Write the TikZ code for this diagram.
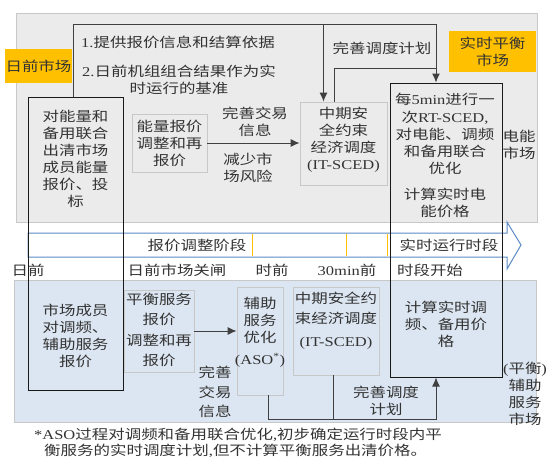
\documentclass[tikz,border=0pt]{standalone}
\usepackage{fontspec}
\setmainfont{Liberation Serif}[FakeStretch=1.22]
\newfontfamily\cjk{Noto Sans CJK SC}[FakeStretch=1.22]
\newcommand{\lat}[1]{{\rmfamily #1}}
\usepackage{xcolor}
\definecolor{panelgray}{HTML}{EBEBEB}
\definecolor{panelblue}{HTML}{DCE6F2}
\definecolor{mktorange}{HTML}{FFC000}
\definecolor{lineblue}{HTML}{5B8AC4}
\definecolor{edgegray}{HTML}{C8C8C8}
\usepackage{tikz}
\usetikzlibrary{arrows.meta, positioning, calc}

\begin{document}
\begin{tikzpicture}[x=1pt, y=-1pt,
  txt/.style={inner sep=0pt, align=center, text=black!80,
    font=\cjk\fontsize{13.5}{17}\selectfont},
  panel/.style={draw=edgegray, line width=0.8pt, inner sep=0pt},
  softbox/.style={txt, draw=edgegray, line width=0.8pt},
  hardbox/.style={draw=black!90, line width=1pt, inner sep=0pt},
  mkt/.style={txt, fill=mktorange, inner sep=0pt},
  conn/.style={draw=black!75, line width=1pt},
  tip/.style={-{Latex[length=9pt,width=8pt]}}]
  \useasboundingbox (0,0) rectangle (560,472);

  \node[panel, fill=panelgray, minimum width=521pt, minimum height=209pt] (toppanel) at (276.5,117.5) {};
  \node[panel, fill=panelblue, minimum width=522pt, minimum height=142pt] (lowpanel) at (275,351) {};

  \draw[lineblue, fill=white, line width=1pt] (28,233) -- (507,233) -- (507,222) -- (521,245)
    -- (507,269) -- (507,257) -- (28,257) -- cycle;
  \foreach \tx in {28,123,252,346,387}
    \draw[mktorange, line width=1pt] (\tx,234) -- (\tx,256);
  \node[txt] (quotephase) at (197,245) {报价调整阶段};
  \node[txt] (runphase) at (449,245) {实时运行时段};
  \node[txt] (tDA) at (28,270) {日前};
  \node[txt] (tClose) at (177,270) {日前市场关闸};
  \node[txt] (tHA) at (272,270) {时前};
  \node[txt] (t30) at (347,270) {\lat{30min}前};
  \node[txt] (tStart) at (430,270) {时段开始};

  \node[mkt, minimum width=67pt, minimum height=34pt] (damkt) at (38.5,66) {日前市场};
  \node[mkt, minimum width=87pt, minimum height=41pt] (rtmkt) at (492.5,51.5) {实时平衡\\市场};

  \node[hardbox, minimum width=95pt, minimum height=293pt] (dayahead) at (75.5,243.5) {};
  \node[txt] (bidE) at (75.5,159) {对能量和\\备用联合\\出清市场\\成员能量\\报价、投\\标};
  \node[txt] (bidA) at (75.5,336) {市场成员\\对调频、\\辅助服务\\报价};

  \node[hardbox, minimum width=112pt, minimum height=294pt] (rtsced) at (446,230) {};
  \node[txt] (rtopt) at (445,134) {每\lat{5min}进行一\\[1pt]次\lat{RT-SCED,}\\对电能、调频\\和备用联合\\优化};
  \node[txt] (rtprice) at (445,203) {计算实时电\\能价格};
  \node[txt] (rtanc) at (446,324.5) {计算实时调\\频、备用价\\格};

  \node[txt] (item1) at (178,42) {\lat{1.}提供报价信息和结算依据};
  \node[txt] (item2) at (179,79.5) {\lat{2.}日前机组组合结果作为实\\时运行的基准};

  \node[softbox, minimum width=75pt, minimum height=58pt] (energybid) at (169.5,143) {能量报价\\调整和再\\报价};
  \node[softbox, minimum width=87pt, minimum height=83pt] (itsced) at (343.5,143.5) {};
  \node[txt] (itscedtxt) at (343.5,140) {中期安\\全约束\\经济调度\\\lat{(IT-SCED)}};
  \node[txt] (tradeinfo) at (255,122) {完善交易\\信息};
  \node[txt] (riskcut) at (248,168) {减少市\\场风险};
  \node[txt] (planup) at (382,48) {完善调度计划};
  \node[txt] (energymkt) at (519,145) {电能\\市场};

  \coordinate (railL) at (73,24);
  \coordinate (railR) at (436,24);
  \coordinate (planR) at (436,68);
  \coordinate (railB) at (436,419);

  \draw[conn, tip] (dayahead.north -| railL) -- (railL) -- (railR) -- (railR |- rtsced.north);
  \draw[conn, tip] ([xshift=-20pt]itsced.north |- railL) -- ([xshift=-20pt]itsced.north);
  \draw[conn] ([xshift=-9pt]itsced.north) |- (planR);
  \draw[conn, tip] (energybid.east) -- (energybid.east -| itsced.west);

  \node[softbox, minimum width=70pt, minimum height=82pt] (balbid) at (159,331) {};
  \node[txt] (balbidtxt) at (159,329.5) {平衡服务\\[3pt]报价\\[4pt]调整和再\\[3pt]报价};
  \node[softbox, minimum width=46pt, minimum height=108pt] (aso) at (260,341) {};
  \node[txt] (asotxt) at (260,332) {辅助\\服务\\优化\\[5pt]\lat{(ASO\textsuperscript{*})}};
  \node[softbox, minimum width=86pt, minimum height=88pt] (itsced2) at (336,331) {};
  \node[txt] (itsced2txt) at (336,321) {中期安全约\\[3pt]束经济调度\\[6pt]\lat{(IT-SCED)}};
  \node[txt] (tradeinfo2) at (215,392) {完善\\[3pt]交易\\[2pt]信息};
  \node[txt] (plandown) at (386,401) {完善调度\\计划};
  \node[txt] (ancmkt) at (525,394) {\lat{(}平衡\lat{)}\\辅助\\服务\\市场};

  \draw[conn, tip] (balbid.east) -- (balbid.east -| aso.west);
  \draw[conn, tip] ([xshift=8pt]aso.south) |- (railB) -- (railB |- rtsced.south);
  \draw[conn] ([xshift=-3pt]itsced2.south) -- ([xshift=-3pt]itsced2.south |- railB);

  \node[txt, anchor=west] (note1) at (34,435) {\lat{*ASO}过程对调频和备用联合优化\lat{,}初步确定运行时段内平};
  \node[txt, anchor=west] (note2) at (44,451) {衡服务的实时调度计划\lat{,}但不计算平衡服务出清价格。};
\end{tikzpicture}
\end{document}
